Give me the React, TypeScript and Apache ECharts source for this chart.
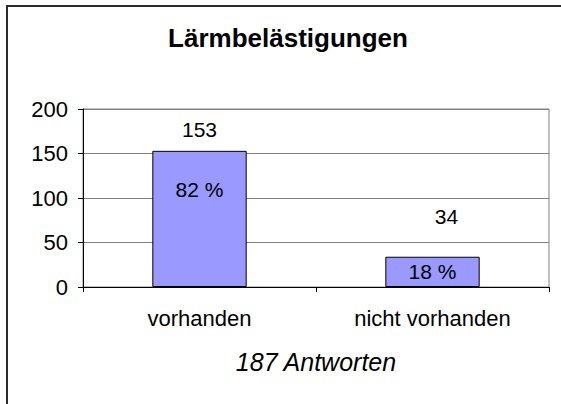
import { useEffect, useRef } from "react";
import * as echarts from "echarts";

const categories = ["vorhanden", "nicht vorhanden"];
const counts = [153, 34];
const percents = [82, 18];
const yMin = 0;
const yMax = 200;
const yInterval = 50;
const titleText = "Lärmbelästigungen";
const axisTitle = "187 Antworten";

const FONT = "'Liberation Sans', Arial, sans-serif";

export default function App() {
  const ref = useRef<HTMLDivElement>(null);
  useEffect(() => {
    const chart = echarts.init(ref.current!, null, { renderer: "svg" });
    chart.setOption({
      animation: false,
      backgroundColor: "#ffffff",
      title: {
        text: titleText,
        left: 288,
        top: 25,
        textAlign: "center",
        padding: 0,
        textStyle: { fontFamily: FONT, fontSize: 26, fontWeight: "bold", color: "#000" },
      },
      graphic: [
        {
          type: "rect",
          silent: true,
          shape: { x: 7, y: 6, width: 700, height: 600 },
          style: { fill: "none", stroke: "#2a2a2a", lineWidth: 2 },
        },
      ],
      grid: {
        left: 83,
        top: 109,
        right: 12,
        bottom: 117,
        show: true,
        borderColor: "#808080",
        borderWidth: 1,
        backgroundColor: "transparent",
      },
      xAxis: {
        type: "category",
        data: categories,
        axisLine: { show: true, lineStyle: { color: "#000", width: 1 } },
        axisTick: { show: true, length: 5, alignWithLabel: false, lineStyle: { color: "#000" } },
        axisLabel: { margin: 20, fontSize: 22, color: "#000", fontFamily: FONT },
        name: axisTitle,
        nameLocation: "middle",
        nameGap: 62,
        nameTextStyle: { fontStyle: "italic", fontSize: 25, color: "#000", fontFamily: FONT },
      },
      yAxis: {
        type: "value",
        min: yMin,
        max: yMax,
        interval: yInterval,
        axisLine: { show: true, lineStyle: { color: "#000", width: 1 } },
        axisTick: { show: true, length: 5, lineStyle: { color: "#000" } },
        axisLabel: { margin: 15, fontSize: 22, color: "#000", fontFamily: FONT },
        splitLine: { show: true, lineStyle: { color: "#808080", width: 1 } },
      },
      series: [
        {
          type: "bar",
          barWidth: "40.5%",
          barGap: "-100%",
          data: counts.map((v, i) => ({
            value: v,
            label: i === 0 ? { distance: 11 } : { distance: 30, offset: [14, 0] },
          })),
          itemStyle: { color: "#9999ff", borderColor: "#000", borderWidth: 1 },
          label: { show: true, position: "top", fontSize: 21, color: "#000", fontFamily: FONT },
        },
        {
          type: "bar",
          barWidth: "40.5%",
          barGap: "-100%",
          silent: true,
          data: counts.map((v, i) => ({
            value: v,
            label: i === 0 ? { position: "insideTop", distance: 28 } : { position: "inside" },
          })),
          itemStyle: { color: "transparent", borderWidth: 0 },
          label: {
            show: true,
            fontSize: 21,
            color: "#000",
            fontFamily: FONT,
            formatter: (p: any) => `${percents[p.dataIndex]} %`,
          },
        },
      ],
    });
    return () => chart.dispose();
  }, []);
  return (
    <div
      ref={ref}
      style={{ position: "absolute", left: 0, top: 0, width: 561, height: 404, background: "#fff" }}
    />
  );
}
